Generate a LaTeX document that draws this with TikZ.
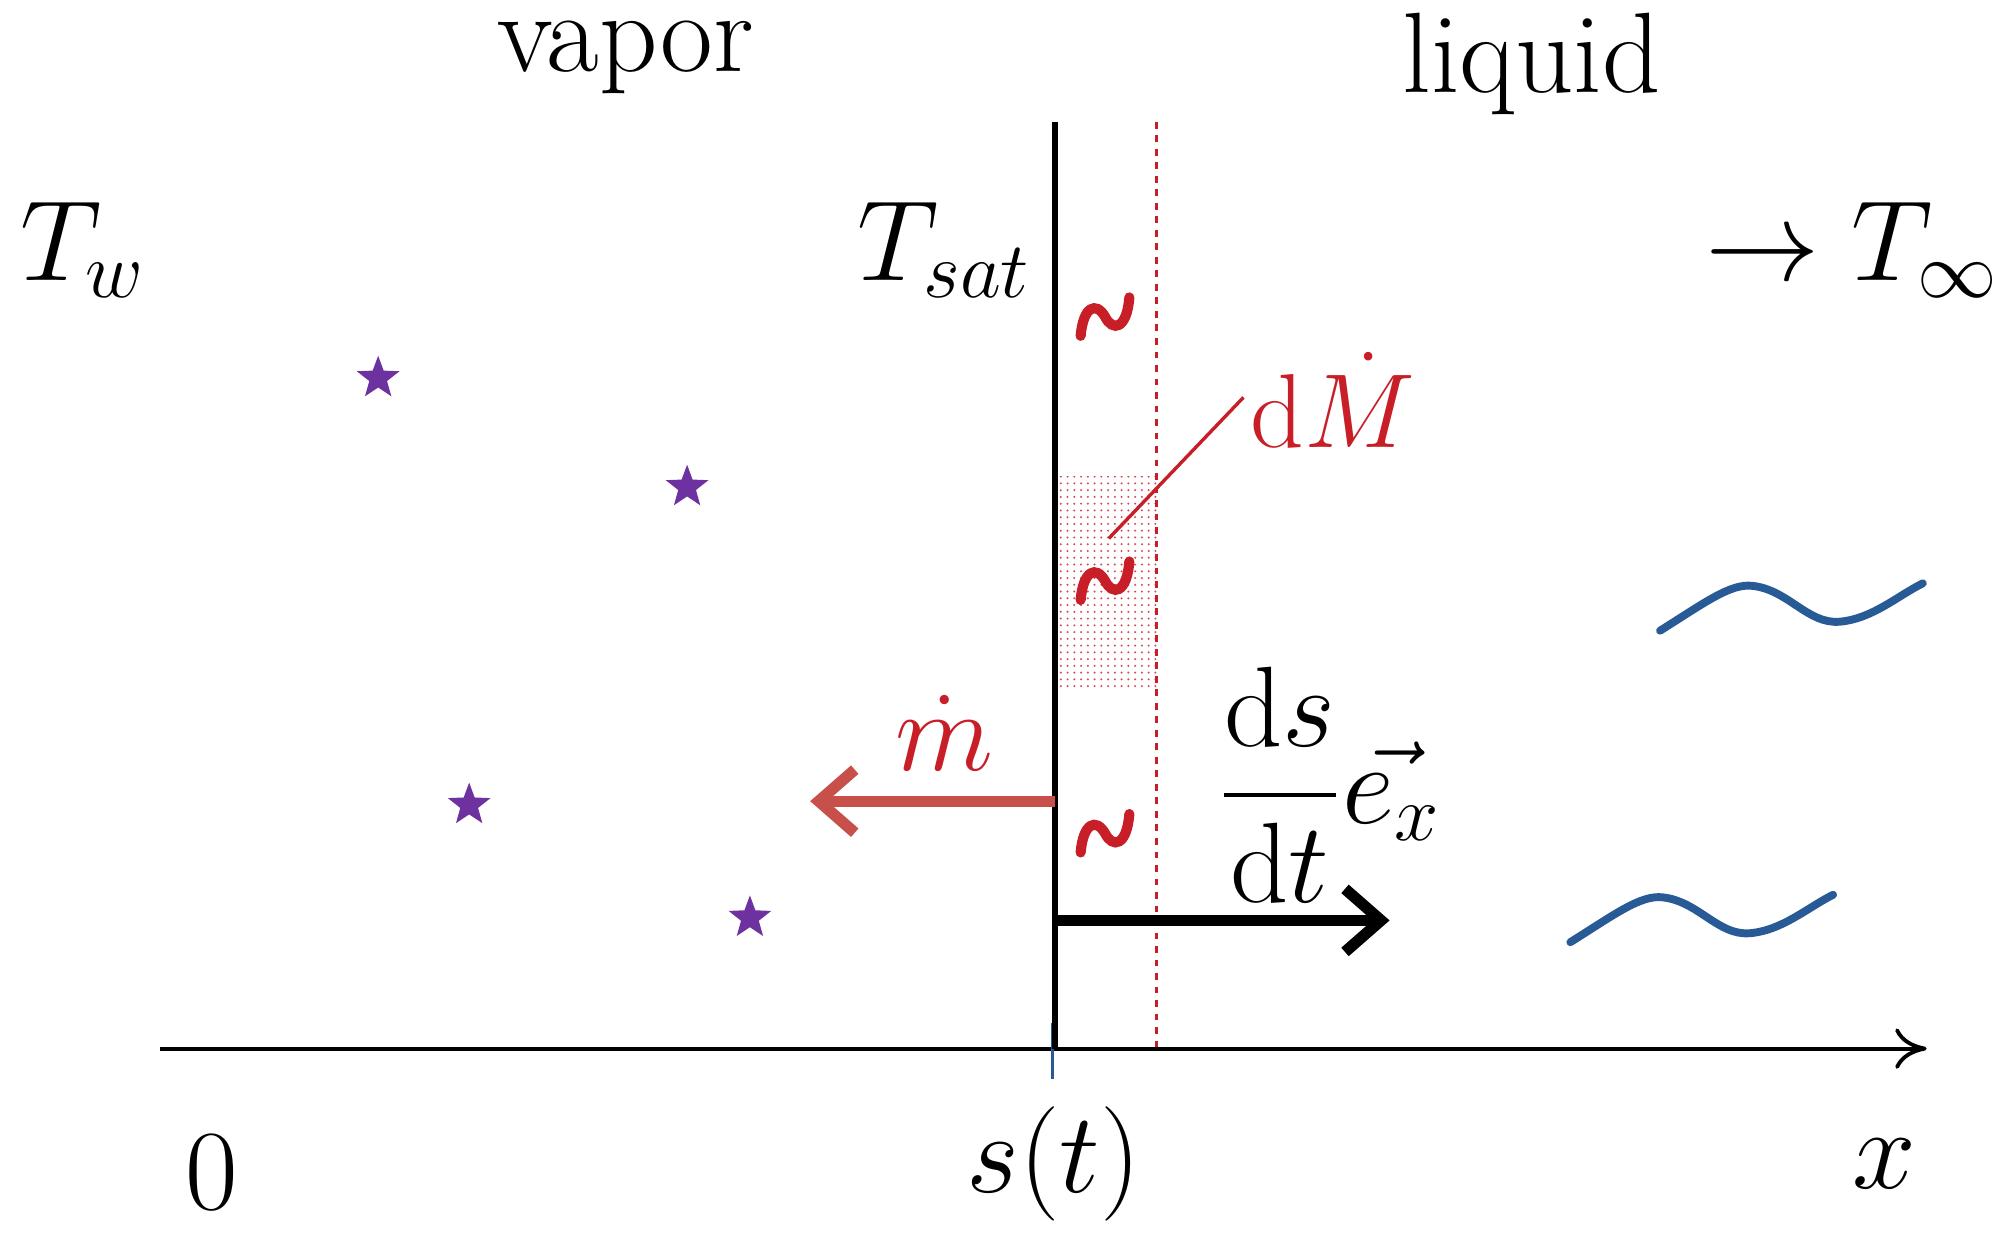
\documentclass[tikz,border=0pt]{standalone}
\usepackage{amsmath,bm}
\usetikzlibrary{arrows.meta,shapes.geometric,patterns}
\definecolor{dred}{RGB}{200,30,40}
\definecolor{arr}{RGB}{200,80,75}
\definecolor{pur}{RGB}{110,50,160}
\definecolor{wblue}{RGB}{40,90,150}
\tikzset{lab/.style={font=\fontsize{20.74}{24}\selectfont,scale=2.45,transform shape},
 stardot/.style={star,star points=5,star point ratio=2.4,fill=pur,inner sep=0pt,minimum size=0.7cm},
 tild/.style={dred,line width=4.5pt,line cap=round},
 wave/.style={wblue,line width=3.5pt,line cap=round}}
\newcommand{\tld}[2]{\draw[tild] (#1-19,#2+15) .. controls (#1-17,#2-8) and (#1-7,#2-12) .. (#1,#2) .. controls (#1+6,#2+12) and (#1+17,#2+10) .. (#1+19,#2-15);}
\begin{document}
\begin{tikzpicture}[x=0.02cm,y=-0.02cm]
\useasboundingbox (0,0) rectangle (1568,978);
\fill[pattern=dots,pattern color=dred!80] (826,372) rectangle (902,537);
\coordinate (a0) at (125,818); \coordinate (a1) at (1503,818);
\draw[line width=1.7pt,-{To[length=14pt,width=18pt]}] (a0) -- (a1);
\draw[wblue,line width=1.5pt] (821,798) -- (821,842);
\draw[line width=2.5pt] (823,95) -- (823,818);
\draw[dred,dashed,line width=1.2pt] (902,95) -- (902,818);
\node[lab] (vap) at (488,45) {vapor};
\node[lab] (liq) at (1195,50) {liquid};
\node[lab] (tw) at (65,195) {$T_w$};
\node[lab] (ts) at (737,195) {$T_{sat}$};
\node[lab] (ti) at (1445,195) {$\to T_\infty$};
\node[lab] (z) at (165,915) {$0$};
\node[lab] (s) at (822,908) {$s(t)$};
\node[lab] (x) at (1470,908) {$x$};
\tld{862}{247}
\tld{862}{453}
\tld{862}{650}
\node[lab,text=dred,scale=0.92] (dm) at (1040,312) {$\mathrm{d}\dot M$};
\coordinate (dmp) at (865,420);
\draw[dred,line width=1.5pt] (dmp) -- (970,310);
\node[lab,text=dred] (md) at (737,572) {$\dot m$};
\coordinate (ms) at (823,625); \coordinate (me) at (632,625);
\draw[arr,line width=5pt,-{Straight Barb[length=16pt,width=28pt]}] (ms) -- (me);
\node[lab] (ds) at (1037,612) {$\dfrac{\mathrm{d}s}{\mathrm{d}t}\vec{e_x}$};
\coordinate (vs) at (823,718); \coordinate (ve) at (1084,718);
\draw[line width=5pt,-{Straight Barb[length=16pt,width=28pt]}] (vs) -- (ve);
\node[stardot] (s1) at (295,295) {};
\node[stardot] (s2) at (536,380) {};
\node[stardot] (s3) at (366,628) {};
\node[stardot] (s4) at (585,716) {};
\draw[wave] (1295,492) .. controls (1330,470) and (1350,455) .. (1367,457) .. controls (1395,460) and (1410,487) .. (1435,485) .. controls (1460,483) and (1480,465) .. (1500,455);
\draw[wave] (1225,735) .. controls (1260,713) and (1280,698) .. (1297,700) .. controls (1325,703) and (1340,730) .. (1365,728) .. controls (1390,726) and (1410,708) .. (1430,698);
\end{tikzpicture}
\end{document}
